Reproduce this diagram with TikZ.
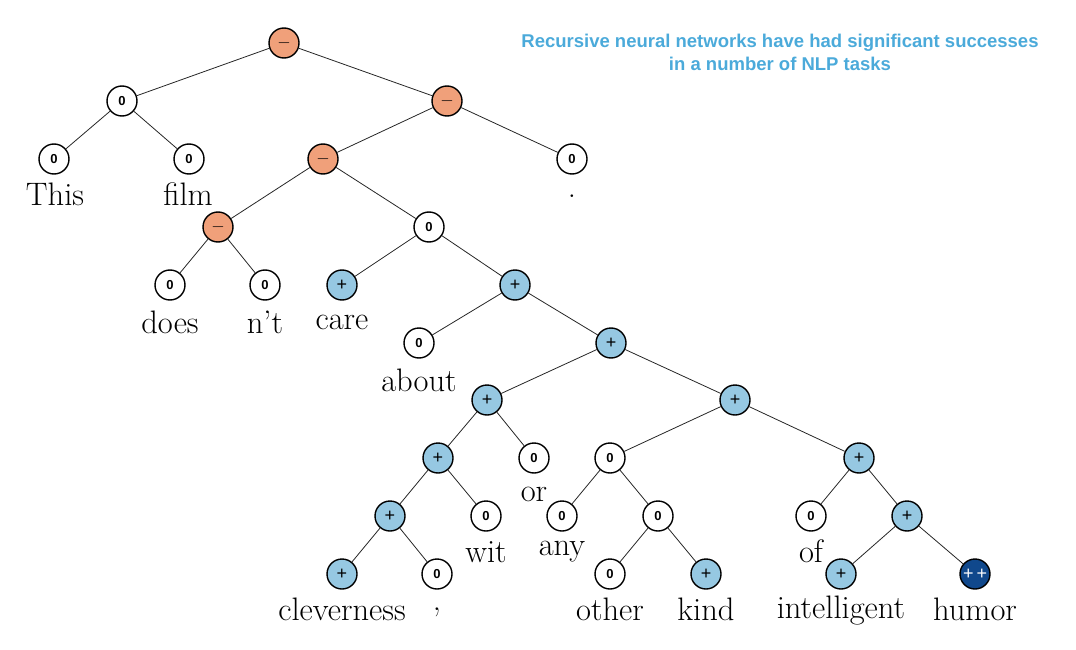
\documentclass[tikz,border=0pt]{standalone}
\usepackage{fontspec}
\newfontfamily\arialf{Liberation Sans}
\definecolor{negc}{RGB}{240,160,122}
\definecolor{posc}{RGB}{150,200,226}
\definecolor{ppc}{RGB}{16,72,140}
\definecolor{titlec}{RGB}{75,170,218}
\tikzset{
  nd/.style={circle, draw=black, line width=1.4pt, minimum size=30pt, inner sep=0pt},
  zeron/.style={nd, fill=white, font=\arialf\bfseries\fontsize{13}{13}\selectfont},
  posn/.style={nd, fill=posc, font=\arialf\fontsize{18}{18}\selectfont},
  negn/.style={nd, fill=negc, font=\arialf\fontsize{18}{18}\selectfont},
  ppn/.style={nd, fill=ppc, text=white, font=\arialf\fontsize{18}{18}\selectfont},
  wd/.style={font=\fontsize{32.5}{34}\selectfont, anchor=base, inner sep=0pt},
  conn/.style={draw=black!85, line width=0.8pt}
}
\begin{document}
\begin{tikzpicture}[x=1pt,y=-1pt]
\useasboundingbox (0,0) rectangle (1076,650);
% title
\node[text=titlec, font=\arialf\bfseries\fontsize{18.5}{23}\selectfont, align=center, inner sep=0pt] (title) at (780,52)
  {Recursive neural networks have had significant successes\\in a number of NLP tasks};
% internal nodes
\node[negn] (root) at (284,43) {$-$};
\node[zeron] (n1) at (122,101) {0};
\node[negn] (n2) at (447,101) {$-$};
\node[negn] (n3) at (323,159) {$-$};
\node[negn] (n4) at (218,227) {$-$};
\node[zeron] (n5) at (429,227) {0};
\node[posn] (n6) at (515,285) {+};
\node[posn] (n7) at (611,343) {+};
\node[posn] (n8) at (487,400) {+};
\node[posn] (n9) at (735,400) {+};
\node[posn] (n10) at (438,458) {+};
\node[zeron] (n11) at (610,458) {0};
\node[posn] (n12) at (859,458) {+};
\node[posn] (n13) at (390,516) {+};
\node[zeron] (n14) at (658,516) {0};
\node[posn] (n15) at (907,516) {+};
% leaves
\node[zeron] (lthis) at (54,159) {0};
\node[zeron] (lfilm) at (189,159) {0};
\node[zeron] (ldot) at (572,159) {0};
\node[zeron] (ldoes) at (170,285) {0};
\node[zeron] (lnt) at (265,285) {0};
\node[posn] (lcare) at (342,285) {+};
\node[zeron] (labout) at (419,343) {0};
\node[zeron] (lor) at (534,458) {0};
\node[zeron] (lwit) at (486,516) {0};
\node[zeron] (lany) at (562,516) {0};
\node[zeron] (lof) at (811,516) {0};
\node[posn] (lclev) at (342,574) {+};
\node[zeron] (lcomma) at (437,574) {0};
\node[zeron] (lother) at (610,574) {0};
\node[posn] (lkind) at (706,574) {+};
\node[posn] (lintel) at (841,574) {+};
\node[ppn] (lhumor) at (975,574) {+\,+};
% words
\node[wd] (wthis) at (55,205) {This};
\node[wd] (wfilm) at (188,205) {film};
\node[wd] (wdot) at (572,197) {.};
\node[wd] (wdoes) at (170,333) {does};
\node[wd] (wnt) at (265,333) {n’t};
\node[wd] (wcare) at (342,329) {care};
\node[wd] (wabout) at (419,391) {about};
\node[wd] (wor) at (534,501) {or};
\node[wd] (wwit) at (486,562) {wit};
\node[wd] (wany) at (562,555) {any};
\node[wd] (wof) at (811,562) {of};
\node[wd] (wclev) at (342,620) {cleverness};
\node[wd] (wcomma) at (437,610) {,};
\node[wd] (wother) at (610,620) {other};
\node[wd] (wkind) at (706,620) {kind};
\node[wd] (wintel) at (841,618) {intelligent};
\node[wd] (whumor) at (975,620) {humor};
% connectors
\draw[conn] (root) -- (n1);
\draw[conn] (root) -- (n2);
\draw[conn] (n1) -- (lthis);
\draw[conn] (n1) -- (lfilm);
\draw[conn] (n2) -- (n3);
\draw[conn] (n2) -- (ldot);
\draw[conn] (n3) -- (n4);
\draw[conn] (n3) -- (n5);
\draw[conn] (n4) -- (ldoes);
\draw[conn] (n4) -- (lnt);
\draw[conn] (n5) -- (lcare);
\draw[conn] (n5) -- (n6);
\draw[conn] (n6) -- (labout);
\draw[conn] (n6) -- (n7);
\draw[conn] (n7) -- (n8);
\draw[conn] (n7) -- (n9);
\draw[conn] (n8) -- (n10);
\draw[conn] (n8) -- (lor);
\draw[conn] (n9) -- (n11);
\draw[conn] (n9) -- (n12);
\draw[conn] (n10) -- (n13);
\draw[conn] (n10) -- (lwit);
\draw[conn] (n11) -- (lany);
\draw[conn] (n11) -- (n14);
\draw[conn] (n12) -- (lof);
\draw[conn] (n12) -- (n15);
\draw[conn] (n13) -- (lclev);
\draw[conn] (n13) -- (lcomma);
\draw[conn] (n14) -- (lother);
\draw[conn] (n14) -- (lkind);
\draw[conn] (n15) -- (lintel);
\draw[conn] (n15) -- (lhumor);
\end{tikzpicture}
\end{document}
